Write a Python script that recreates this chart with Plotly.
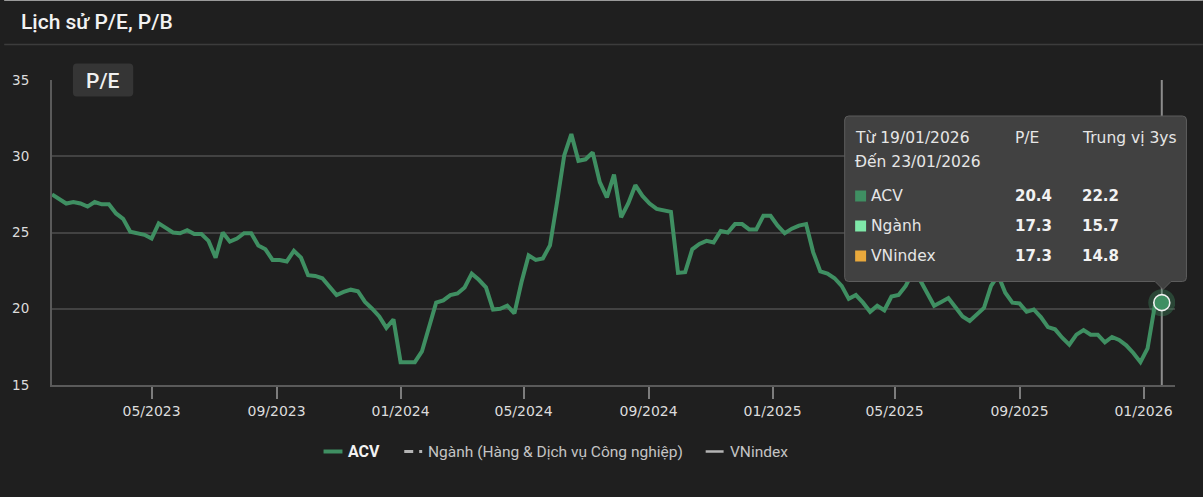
import plotly.graph_objects as go
import pandas as pd

# ---------------- data ----------------
dates = pd.date_range("2023-01-23", periods=157, freq="7D")
pe_acv = [
    27.5, 27.2, 26.9, 27.0, 26.9, 26.7, 27.0, 26.85, 26.85, 26.25,
    25.9, 25.05, 24.95, 24.85, 24.6, 25.6, 25.3, 25.0, 24.95, 25.15,
    24.9, 24.9, 24.45, 23.35, 25.0, 24.4, 24.6, 24.95, 24.95, 24.15,
    23.9, 23.2, 23.2, 23.1, 23.8, 23.35, 22.2, 22.15, 22.0, 21.45,
    20.9, 21.1, 21.25, 21.15, 20.45, 20.0, 19.5, 18.75, 19.3, 16.5,
    16.5, 16.5, 17.2, 18.9, 20.4, 20.55, 20.9, 21.0, 21.4, 22.3,
    21.9, 21.4, 19.95, 20.0, 20.2, 19.7, 21.75, 23.5, 23.2, 23.3,
    24.15, 27.0, 30.05, 31.45, 29.7, 29.8, 30.25, 28.3, 27.3, 28.8,
    26.0, 26.9, 28.1, 27.4, 26.9, 26.55, 26.45, 26.35, 22.35, 22.4,
    23.9, 24.25, 24.45, 24.35, 25.1, 25.0, 25.55, 25.55, 25.2, 25.2,
    26.1, 26.1, 25.45, 24.95, 25.25, 25.45, 25.55, 23.7, 22.45, 22.3,
    22.0, 21.5, 20.65, 20.9, 20.4, 19.8, 20.2, 19.9, 20.8, 20.9,
    21.5, 22.4, 21.9, 21.1, 20.2, 20.45, 20.7, 20.1, 19.5, 19.2,
    19.6, 20.05, 21.5, 22.2, 21.05, 20.4, 20.35, 19.8, 19.95, 19.45,
    18.8, 18.65, 18.1, 17.65, 18.3, 18.6, 18.3, 18.3, 17.8, 18.15,
    17.95, 17.6, 17.1, 16.5, 17.4, 20.15, 20.4,
]

tick_dates = ["2023-05-01", "2023-09-01", "2024-01-01", "2024-05-01", "2024-09-01",
              "2025-01-01", "2025-05-01", "2025-09-01", "2026-01-01"]
tick_labels = ["05/2023", "09/2023", "01/2024", "05/2024", "09/2024",
               "01/2025", "05/2025", "09/2025", "01/2026"]
y_ticks = [15, 20, 25, 30, 35]

legend_names = ["ACV", "Ngành (Hàng & Dịch vụ Công nghiệp)", "VNindex"]
series_names = ["ACV", "Ngành", "VNindex"]
series_colors = ["#3f8f62", "#7fe8a9", "#e9a93c"]
pe_current = [20.4, 17.3, 17.3]
pe_median3y = [22.2, 15.7, 14.8]
period_from = "19/01/2026"
period_to = "23/01/2026"

# ---------------- layout helpers ----------------
W, H = 1203, 497
L, R, T, B = 48, 1175, 80, 385
BG = "#1f1f1f"
GREEN = series_colors[0]


def px(x):
    return (x - L) / (R - L)


def py(y):
    return (B - y) / (B - T)


def rr_path(x0, y0, x1, y1, r, arrow_x=None, arrow_h=8, arrow_w=7):
    pts = []
    pts.append(f"M{px(x0 + r)},{py(y0)}")
    pts.append(f"L{px(x1 - r)},{py(y0)}")
    pts.append(f"Q{px(x1)},{py(y0)} {px(x1)},{py(y0 + r)}")
    pts.append(f"L{px(x1)},{py(y1 - r)}")
    pts.append(f"Q{px(x1)},{py(y1)} {px(x1 - r)},{py(y1)}")
    if arrow_x is not None:
        pts.append(f"L{px(arrow_x + arrow_w)},{py(y1)}")
        pts.append(f"L{px(arrow_x)},{py(y1 + arrow_h)}")
        pts.append(f"L{px(arrow_x - arrow_w)},{py(y1)}")
    pts.append(f"L{px(x0 + r)},{py(y1)}")
    pts.append(f"Q{px(x0)},{py(y1)} {px(x0)},{py(y1 - r)}")
    pts.append(f"L{px(x0)},{py(y0 + r)}")
    pts.append(f"Q{px(x0)},{py(y0)} {px(x0 + r)},{py(y0)}")
    pts.append("Z")
    return " ".join(pts)


fig = go.Figure()
fig.add_trace(go.Scatter(x=dates, y=pe_acv, mode="lines",
                         line=dict(color=GREEN, width=4),
                         hoverinfo="skip", showlegend=False))
fig.add_trace(go.Scatter(x=[dates[-1]], y=[pe_acv[-1]], mode="markers",
                         marker=dict(size=27, color="rgba(63,143,98,0.35)"),
                         hoverinfo="skip", showlegend=False))
fig.add_trace(go.Scatter(x=[dates[-1]], y=[pe_acv[-1]], mode="markers",
                         marker=dict(size=16, color=GREEN, line=dict(color="#f2f2f2", width=1.6)),
                         hoverinfo="skip", showlegend=False))

shapes = []
annotations = []

# crosshair
shapes.append(dict(type="line", xref="x", yref="paper", x0=dates[-1], x1=dates[-1],
                   y0=0, y1=1, line=dict(color="#8c8c8c", width=2), layer="between"))

# top border and title separator
shapes.append(dict(type="line", xref="paper", yref="paper", x0=px(0), x1=px(W),
                   y0=py(0.5), y1=py(0.5), line=dict(color="#9a9a9a", width=1), layer="above"))
shapes.append(dict(type="line", xref="paper", yref="paper", x0=px(0), x1=px(W),
                   y0=py(44.5), y1=py(44.5), line=dict(color="#3c3c3c", width=1.5), layer="above"))

# title
annotations.append(dict(text="Lịch sử P/E, P/B", xref="paper", yref="paper",
                        x=px(15), y=py(22), xanchor="left", yanchor="middle", showarrow=False,
                        font=dict(family="Roboto", size=21, color="#f2f2f2", weight=500)))

# P/E badge
shapes.append(dict(type="path", xref="paper", yref="paper",
                   path=rr_path(69, 63.5, 129.5, 96.5, 4),
                   fillcolor="#353535", line=dict(width=0), layer="above"))
annotations.append(dict(text="P/E", xref="paper", yref="paper", x=px(99.5), y=py(80.5),
                        xanchor="center", yanchor="middle", showarrow=False,
                        font=dict(family="Roboto", size=21, color="#f0f0f0", weight=500)))

# tooltip box
shapes.append(dict(type="path", xref="paper", yref="paper",
                   path=rr_path(843.5, 116, 1186.5, 281.5, 4, arrow_x=1163, arrow_h=8, arrow_w=8),
                   fillcolor="#414141", line=dict(color="#5c5c5c", width=1), layer="above"))

TT_FONT = "DejaVu Sans"
annotations.append(dict(text="Từ " + period_from, xref="paper", yref="paper", x=px(851.5), y=py(137.5),
                        xanchor="left", yanchor="middle", showarrow=False,
                        font=dict(family=TT_FONT, size=15.5, color="#e6e6e6")))
annotations.append(dict(text="Đến " + period_to, xref="paper", yref="paper", x=px(851.5), y=py(162),
                        xanchor="left", yanchor="middle", showarrow=False,
                        font=dict(family=TT_FONT, size=15.5, color="#e6e6e6")))
annotations.append(dict(text="P/E", xref="paper", yref="paper", x=px(1012), y=py(137.5),
                        xanchor="left", yanchor="middle", showarrow=False,
                        font=dict(family=TT_FONT, size=15.5, color="#e6e6e6")))
annotations.append(dict(text="Trung vị 3ys", xref="paper", yref="paper", x=px(1080), y=py(137.5),
                        xanchor="left", yanchor="middle", showarrow=False,
                        font=dict(family=TT_FONT, size=15.5, color="#e6e6e6")))

row_y = [196, 226, 256]
for name, col, cur, med, yy in zip(series_names, series_colors, pe_current, pe_median3y, row_y):
    shapes.append(dict(type="rect", xref="paper", yref="paper",
                       x0=px(854), x1=px(865), y0=py(yy - 5.5), y1=py(yy + 5.5),
                       fillcolor=col, line=dict(width=0), layer="above"))
    annotations.append(dict(text=name, xref="paper", yref="paper", x=px(868), y=py(yy),
                            xanchor="left", yanchor="middle", showarrow=False,
                            font=dict(family=TT_FONT, size=15.5, color="#e6e6e6")))
    annotations.append(dict(text=f"<b>{cur:.1f}</b>", xref="paper", yref="paper", x=px(1012), y=py(yy),
                            xanchor="left", yanchor="middle", showarrow=False,
                            font=dict(family=TT_FONT, size=15, color="#f2f2f2")))
    annotations.append(dict(text=f"<b>{med:.1f}</b>", xref="paper", yref="paper", x=px(1079.5), y=py(yy),
                            xanchor="left", yanchor="middle", showarrow=False,
                            font=dict(family=TT_FONT, size=15, color="#f2f2f2")))

# legend (manual)
LEG_Y = 451.5
shapes.append(dict(type="line", xref="paper", yref="paper", x0=px(320.5), x1=px(339.5),
                   y0=py(LEG_Y), y1=py(LEG_Y), line=dict(color=GREEN, width=4), layer="above"))
annotations.append(dict(text="<b>" + legend_names[0] + "</b>", xref="paper", yref="paper",
                        x=px(343), y=py(LEG_Y), xanchor="left", yanchor="middle", showarrow=False,
                        font=dict(family="Roboto", size=16, color="#f2f2f2")))
shapes.append(dict(type="line", xref="paper", yref="paper", x0=px(401.5), x1=px(410.5),
                   y0=py(LEG_Y), y1=py(LEG_Y), line=dict(color="#b4b4b4", width=3), layer="above"))
shapes.append(dict(type="line", xref="paper", yref="paper", x0=px(416.5), x1=px(419.5),
                   y0=py(LEG_Y), y1=py(LEG_Y), line=dict(color="#b4b4b4", width=3), layer="above"))
annotations.append(dict(text=legend_names[1], xref="paper", yref="paper",
                        x=px(423), y=py(LEG_Y), xanchor="left", yanchor="middle", showarrow=False,
                        font=dict(family="Roboto", size=15.5, color="#c4c4c4")))
shapes.append(dict(type="line", xref="paper", yref="paper", x0=px(704), x1=px(722),
                   y0=py(LEG_Y), y1=py(LEG_Y), line=dict(color="#b4b4b4", width=2.5), layer="above"))
annotations.append(dict(text=legend_names[2], xref="paper", yref="paper",
                        x=px(726), y=py(LEG_Y), xanchor="left", yanchor="middle", showarrow=False,
                        font=dict(family="Roboto", size=15.5, color="#c4c4c4")))

fig.update_layout(
    width=W, height=H,
    margin=dict(l=L, r=W - R, t=T, b=H - B, pad=0),
    paper_bgcolor=BG, plot_bgcolor=BG,
    showlegend=False,
    shapes=shapes, annotations=annotations,
    xaxis=dict(type="date", range=["2023-01-23", "2026-02-01"],
               tickvals=tick_dates, ticktext=tick_labels,
               showgrid=False, zeroline=False,
               showline=True, linecolor="#5a5a5a", linewidth=2,
               ticks="outside", ticklen=12, tickwidth=1.5, tickcolor="#7c7c7c",
               tickfont=dict(family="DejaVu Sans", size=14, color="#dcdcdc"),
               fixedrange=True),
    yaxis=dict(range=[15, 35], tickvals=y_ticks,
               showgrid=True, gridcolor="#424242", gridwidth=1.5, zeroline=False,
               showline=True, linecolor="#5a5a5a", linewidth=2,
               ticks="", ticklabelstandoff=18,
               tickfont=dict(family="DejaVu Sans", size=13.5, color="#dcdcdc"),
               fixedrange=True),
    hovermode=False,
)

fig.write_html("out.html", config={"displayModeBar": False},
               post_script="document.body.style.margin='0';document.body.style.background='#1f1f1f';")
